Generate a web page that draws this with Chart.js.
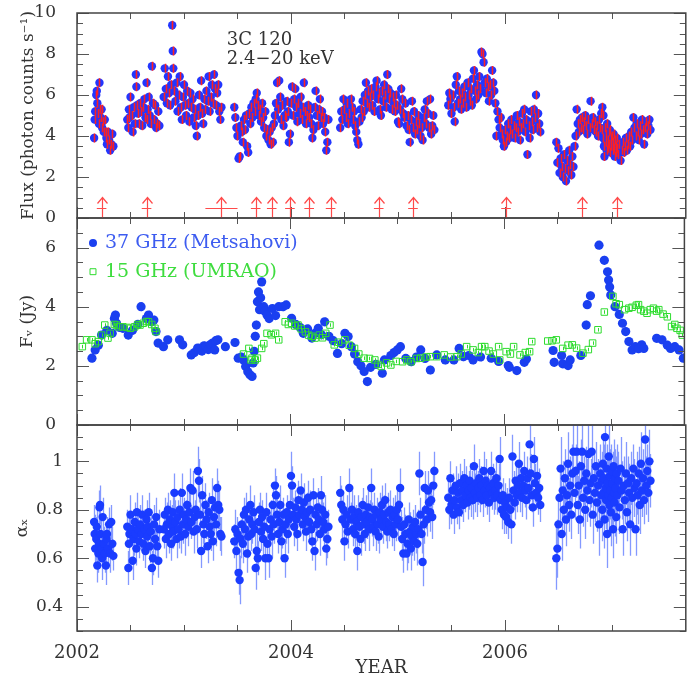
<!DOCTYPE html>
<html>
<head>
<meta charset="utf-8">
<title>3C 120 light curves</title>
<script src="https://cdn.jsdelivr.net/npm/chart.js@4.4.1/dist/chart.umd.min.js"></script>
<style>
  body { margin: 0; background: #fff; }
  #wrap { position: relative; width: 690px; height: 682px; overflow: hidden; background: #fff; }
  #wrap canvas { position: absolute; left: 0; }
</style>
</head>
<body>
<div id="wrap">
  <canvas id="fluxChart" width="690" height="230" style="top:0px"></canvas>
  <canvas id="radioChart" width="690" height="231" style="top:206px"></canvas>
  <canvas id="alphaChart" width="690" height="269" style="top:413px"></canvas>
</div>
<script>
// RXTE 2.4-20 keV monitoring: time (yr), flux (counts/s), spectral index and its error
var xTime = [
  2002.160, 2002.165, 2002.170, 2002.180, 2002.185, 2002.190, 2002.200, 2002.205, 2002.210, 2002.215,
  2002.220, 2002.230, 2002.235, 2002.240, 2002.250, 2002.260, 2002.270, 2002.275, 2002.280, 2002.290,
  2002.300, 2002.310, 2002.320, 2002.330, 2002.340,
  2002.470, 2002.480, 2002.485, 2002.490, 2002.500, 2002.510, 2002.520, 2002.530, 2002.540, 2002.550,
  2002.555, 2002.560, 2002.570, 2002.580, 2002.590, 2002.600, 2002.610, 2002.620, 2002.630, 2002.640,
  2002.650, 2002.655, 2002.660, 2002.670, 2002.680, 2002.690, 2002.700, 2002.710, 2002.720, 2002.730,
  2002.740, 2002.750, 2002.760, 2002.770,
  2002.810, 2002.820, 2002.830, 2002.840, 2002.850, 2002.860, 2002.870, 2002.880, 2002.890, 2002.895,
  2002.900, 2002.910, 2002.920, 2002.930, 2002.940, 2002.950, 2002.960, 2002.970, 2002.980, 2002.990,
  2003.00, 2003.01, 2003.02, 2003.03, 2003.04, 2003.05, 2003.06, 2003.07, 2003.08, 2003.09,
  2003.10, 2003.11, 2003.12, 2003.13, 2003.14, 2003.15, 2003.16, 2003.17, 2003.18, 2003.19,
  2003.20, 2003.21, 2003.22, 2003.23, 2003.24, 2003.25, 2003.26, 2003.27, 2003.28, 2003.29,
  2003.30, 2003.31, 2003.32, 2003.33, 2003.34, 2003.35,
  2003.47, 2003.48, 2003.49, 2003.50, 2003.51, 2003.52, 2003.53, 2003.54, 2003.55, 2003.56,
  2003.57, 2003.58, 2003.59, 2003.60, 2003.61, 2003.62, 2003.63, 2003.64, 2003.65, 2003.66,
  2003.67, 2003.68, 2003.69, 2003.70, 2003.71, 2003.72, 2003.73, 2003.74, 2003.75, 2003.76,
  2003.77, 2003.78, 2003.79, 2003.80, 2003.81, 2003.82, 2003.83, 2003.84, 2003.85, 2003.86,
  2003.87, 2003.88, 2003.89, 2003.90, 2003.91, 2003.92, 2003.93, 2003.94, 2003.95, 2003.96,
  2003.97, 2003.98, 2003.99,
  2004.00, 2004.01, 2004.02, 2004.03, 2004.04, 2004.05, 2004.06, 2004.07, 2004.08, 2004.09,
  2004.10, 2004.11, 2004.12, 2004.13, 2004.14, 2004.15, 2004.16, 2004.17, 2004.18, 2004.19,
  2004.20, 2004.21, 2004.22, 2004.23, 2004.24, 2004.25, 2004.26, 2004.27, 2004.28, 2004.29,
  2004.30, 2004.31, 2004.32, 2004.33, 2004.34, 2004.35,
  2004.46, 2004.47, 2004.48, 2004.49, 2004.50, 2004.51, 2004.52, 2004.53, 2004.545,
  2004.56, 2004.57, 2004.58, 2004.59, 2004.60, 2004.61, 2004.62, 2004.63, 2004.64, 2004.65,
  2004.66, 2004.67, 2004.68, 2004.69, 2004.70, 2004.71, 2004.72, 2004.73, 2004.74, 2004.75,
  2004.76, 2004.77, 2004.78, 2004.79, 2004.80, 2004.81, 2004.82, 2004.83, 2004.84, 2004.85,
  2004.86, 2004.87, 2004.88, 2004.89, 2004.90, 2004.91, 2004.92, 2004.93, 2004.94, 2004.95,
  2004.96, 2004.97, 2004.98, 2004.99,
  2005.00, 2005.01, 2005.02, 2005.03, 2005.04, 2005.05, 2005.06, 2005.07, 2005.08, 2005.09,
  2005.10, 2005.11, 2005.12, 2005.13, 2005.14, 2005.15, 2005.16, 2005.17, 2005.18, 2005.19,
  2005.20, 2005.21, 2005.22, 2005.23, 2005.24, 2005.25, 2005.26, 2005.27, 2005.28, 2005.29,
  2005.30, 2005.31, 2005.32, 2005.33, 2005.34,
  2005.47, 2005.48, 2005.49, 2005.50, 2005.51, 2005.52, 2005.53, 2005.54, 2005.55, 2005.56,
  2005.57, 2005.58, 2005.59, 2005.60, 2005.61, 2005.62, 2005.63, 2005.64, 2005.65, 2005.66,
  2005.67, 2005.68, 2005.69, 2005.70, 2005.71, 2005.72, 2005.73, 2005.74, 2005.75, 2005.76,
  2005.77, 2005.78, 2005.79, 2005.80, 2005.81, 2005.82, 2005.83, 2005.84, 2005.85, 2005.86,
  2005.87, 2005.88, 2005.89, 2005.90, 2005.91, 2005.92, 2005.93, 2005.94, 2005.95, 2005.96,
  2005.97, 2005.98, 2005.99,
  2006.00, 2006.01, 2006.02, 2006.03, 2006.04, 2006.05, 2006.06, 2006.07, 2006.08, 2006.09,
  2006.10, 2006.11, 2006.12, 2006.13, 2006.14, 2006.15, 2006.16, 2006.17, 2006.18, 2006.19,
  2006.20, 2006.21, 2006.22, 2006.23, 2006.24, 2006.25, 2006.26, 2006.27, 2006.28, 2006.29,
  2006.30, 2006.31, 2006.32, 2006.33,
  2006.48, 2006.49, 2006.50, 2006.51, 2006.52, 2006.53, 2006.54, 2006.55, 2006.56, 2006.57,
  2006.58, 2006.59, 2006.60, 2006.61, 2006.62, 2006.63, 2006.64, 2006.65,
  2006.66, 2006.67, 2006.68, 2006.69, 2006.70, 2006.71, 2006.72, 2006.73, 2006.74, 2006.75,
  2006.76, 2006.77, 2006.78, 2006.79, 2006.80, 2006.81, 2006.82, 2006.83, 2006.84, 2006.85,
  2006.86, 2006.87, 2006.88, 2006.89, 2006.90,
  2006.905, 2006.910, 2006.915, 2006.920, 2006.925, 2006.930, 2006.935, 2006.940, 2006.945, 2006.950,
  2006.955, 2006.960, 2006.965, 2006.970, 2006.975, 2006.980, 2006.985, 2006.990, 2006.995, 2007.000,
  2007.005, 2007.010, 2007.015, 2007.020, 2007.025, 2007.030, 2007.035, 2007.040, 2007.045, 2007.050,
  2007.06, 2007.07, 2007.08, 2007.09, 2007.10, 2007.11, 2007.12, 2007.13, 2007.14, 2007.15,
  2007.16, 2007.17, 2007.18, 2007.19, 2007.20, 2007.21, 2007.22, 2007.23, 2007.24, 2007.25,
  2007.26, 2007.27, 2007.28, 2007.29, 2007.30, 2007.31, 2007.32, 2007.33, 2007.34, 2007.35,
  2007.36
];

var xFlux = [
  3.9, 4.8, 5.2, 6.0, 6.2, 5.6, 5.1, 4.6, 6.6, 5.3,
  4.9, 5.3, 4.4, 4.7, 4.2, 4.8, 4.2, 3.9, 3.6, 4.2,
  3.8, 3.3, 3.6, 4.1, 3.5,
  4.8, 4.4, 5.3, 4.9, 5.9, 5.0, 4.2, 5.4, 4.6, 7.0,
  6.4, 5.5, 5.1, 4.6, 5.6, 5.2, 4.5, 5.4, 5.8, 4.9,
  6.6, 4.8, 5.3, 5.9, 5.0, 4.6, 7.4, 5.6, 4.8, 5.5,
  4.4, 4.6, 5.2, 4.5,
  5.9, 7.3, 6.3, 5.6, 6.9, 6.1, 5.5, 6.5, 9.4, 8.15,
  7.3, 6.2, 5.7, 6.6, 5.2, 6.0, 6.9, 5.4, 4.8, 5.9,
  6.5, 5.5, 5.0, 6.2, 5.6, 4.7, 6.1, 5.4, 5.8, 4.9,
  5.3, 4.5, 4.0, 5.0, 6.0, 5.4, 6.7, 5.1, 4.6, 5.8,
  5.3, 6.2, 5.7, 6.9, 5.2, 5.9, 6.5, 5.6, 7.0, 6.3,
  5.5, 6.1, 6.5, 5.2, 4.8, 5.4,
  5.4, 4.9, 4.4, 4.0, 2.9, 3.0, 4.5, 4.2, 3.7, 4.8,
  4.3, 5.0, 3.5, 3.2, 5.1, 4.6, 5.4, 4.9, 5.6, 5.2,
  5.8, 6.1, 5.5, 5.0, 5.3, 4.7, 5.6, 4.9, 4.4, 5.2,
  4.0, 4.3, 3.8, 4.2, 3.6, 4.4, 3.7, 4.6, 5.0, 5.6,
  6.6, 5.3, 6.7, 5.9, 4.8, 5.5, 4.5, 5.0, 4.9, 5.7,
  5.2, 3.7, 4.1,
  5.6, 6.4, 5.0, 5.8, 6.3, 5.4, 4.7, 5.6, 5.1, 5.9,
  4.8, 5.4, 6.6, 5.2, 4.6, 5.0, 5.5, 4.9, 5.3, 4.6,
  3.9, 4.3, 5.4, 6.2, 5.0, 4.5, 5.3, 5.8, 4.9, 5.2,
  4.6, 4.9, 4.2, 3.3, 3.7, 4.8,
  4.4, 5.2, 4.8, 5.8, 5.3, 4.9, 5.6, 4.6, 5.1,
  5.8, 5.4, 4.8, 5.2, 4.5, 4.2, 3.8, 3.6, 4.7, 5.3,
  4.9, 5.7, 5.2, 6.0, 6.6, 5.6, 6.2, 5.4, 5.9, 6.3,
  5.5, 6.0, 5.2, 6.4, 6.7, 5.8, 6.1, 5.3, 5.0, 6.2,
  5.7, 6.5, 6.0, 5.4, 7.0, 6.3, 5.8, 6.1, 5.3, 5.9,
  5.6, 5.2, 6.0, 5.5,
  4.7, 4.6, 5.3, 6.3, 5.8, 5.1, 4.9, 5.6, 4.5, 5.0,
  4.3, 3.7, 4.8, 5.7, 4.4, 5.2, 4.1, 4.7, 4.3, 5.0,
  4.6, 4.0, 4.4, 3.8, 4.9, 5.3, 4.6, 5.7, 5.1, 4.4,
  5.8, 4.1, 4.5, 5.0, 4.3,
  5.5, 6.1, 5.8, 5.1, 6.0, 5.4, 4.7, 6.5, 6.9, 5.6,
  6.2, 5.8, 5.3, 6.1, 5.6, 6.4, 5.9, 5.4, 6.6, 6.0,
  5.7, 6.3, 5.5, 6.8, 7.2, 6.2, 5.8, 6.5, 6.0, 6.9,
  6.3, 8.1, 8.0, 7.6, 6.6, 6.1, 6.8, 6.4, 5.7, 6.5,
  6.0, 7.2, 6.6, 6.2, 5.6, 4.0, 5.2, 4.8, 4.4, 4.9,
  4.1, 3.8, 3.5,
  4.3, 3.7, 4.0, 4.6, 3.9, 4.3, 4.8, 4.1, 4.5, 3.9,
  4.4, 5.0, 4.2, 4.7, 3.8, 4.4, 5.1, 4.6, 5.3, 4.2,
  4.8, 3.1, 4.5, 3.9, 5.2, 4.7, 4.3, 5.3, 4.9, 6.0,
  4.4, 5.1, 4.6, 4.2,
  3.7, 2.7, 3.4, 2.2, 2.9, 2.5, 2.0, 3.1, 2.4, 1.8,
  2.8, 2.3, 3.3, 2.6, 2.1, 3.0, 2.5, 3.5,
  4.0, 5.3, 4.6, 4.2, 4.8, 4.4, 4.9, 4.3, 4.7, 5.0,
  4.5, 4.1, 4.8, 4.4, 5.7, 4.6, 4.9, 4.3, 4.7, 4.2,
  4.5, 4.0, 4.8, 4.4, 5.1,
  4.3, 5.4, 3.9, 5.0, 3.5, 3.0, 4.4, 3.7, 4.1, 3.3,
  4.6, 3.8, 3.4, 4.2, 3.6, 4.3, 3.2, 3.9, 3.5, 4.0,
  3.3, 3.7, 4.1, 3.4, 3.0, 3.8, 3.5, 3.2, 3.9, 3.4,
  3.1, 3.6, 2.8, 3.3, 3.7, 3.2, 3.5, 3.9, 3.3, 3.6,
  4.0, 3.5, 4.2, 3.8, 4.9, 4.4, 4.0, 4.6, 4.2, 3.8,
  4.5, 4.1, 4.8, 4.3, 3.6, 4.4, 4.7, 4.1, 4.5, 4.8,
  4.3
];

var alphaX = [
  0.75, 0.70, 0.64, 0.68, 0.73, 0.57, 0.62, 0.66, 0.81, 0.82,
  0.70, 0.64, 0.60, 0.77, 0.66, 0.62, 0.57, 0.68, 0.70, 0.64,
  0.74, 0.62, 0.75, 0.66, 0.61,
  0.73, 0.56, 0.66, 0.70, 0.78, 0.72, 0.59, 0.68, 0.75, 0.70,
  0.64, 0.79, 0.72, 0.67, 0.74, 0.70, 0.78, 0.66, 0.72, 0.63,
  0.76, 0.69, 0.73, 0.79, 0.65, 0.71, 0.56, 0.60, 0.74, 0.68,
  0.77, 0.65, 0.59, 0.72,
  0.72, 0.78, 0.68, 0.74, 0.80, 0.70, 0.76, 0.66, 0.73, 0.79,
  0.71, 0.87, 0.75, 0.68, 0.77, 0.72, 0.80, 0.69, 0.87, 0.74,
  0.78, 0.70, 0.76, 0.82, 0.73, 0.79, 0.89, 0.75, 0.88, 0.71,
  0.77, 0.80, 0.72, 0.96, 0.92, 0.78, 0.63, 0.86, 0.74, 0.70,
  0.82, 0.76, 0.65, 0.79, 0.73, 0.70, 0.84, 0.67, 0.77, 0.81,
  0.74, 0.89, 0.82, 0.80, 0.70, 0.69,
  0.67, 0.72, 0.63, 0.70, 0.54, 0.51, 0.68, 0.74, 0.66, 0.78,
  0.72, 0.80, 0.62, 0.69, 0.76, 0.82, 0.70, 0.74, 0.79, 0.72,
  0.56, 0.63, 0.60, 0.75, 0.80, 0.71, 0.77, 0.68, 0.73, 0.60,
  0.79, 0.66, 0.60, 0.72, 0.76, 0.69, 0.82, 0.74, 0.90, 0.86,
  0.78, 0.70, 0.75, 0.82, 0.67, 0.72, 0.78, 0.60, 0.74, 0.79,
  0.70, 0.76, 0.82,
  0.94, 0.90, 0.78, 0.73, 0.81, 0.76, 0.70, 0.84, 0.78, 0.88,
  0.80, 0.74, 0.83, 0.77, 0.71, 0.79, 0.85, 0.75, 0.80, 0.72,
  0.67, 0.86, 0.63, 0.78, 0.74, 0.81, 0.76, 0.70, 0.86, 0.80,
  0.75, 0.72, 0.78, 0.64, 0.68, 0.73,
  0.87, 0.82, 0.76, 0.80, 0.67, 0.74, 0.78, 0.71, 0.89,
  0.76, 0.80, 0.72, 0.77, 0.70, 0.75, 0.63, 0.79, 0.73, 0.68,
  0.77, 0.82, 0.74, 0.70, 0.78, 0.75, 0.81, 0.72, 0.77, 0.89,
  0.76, 0.73, 0.80, 0.71, 0.78, 0.74, 0.69, 0.79, 0.76, 0.82,
  0.73, 0.78, 0.84, 0.75, 0.71, 0.79, 0.74, 0.80, 0.72, 0.77,
  0.70, 0.78, 0.74, 0.80,
  0.76, 0.82, 0.89, 0.73, 0.68, 0.62, 0.74, 0.70, 0.62, 0.66,
  0.76, 0.71, 0.64, 0.69, 0.73, 0.67, 0.75, 0.70, 0.66, 0.72,
  0.95, 0.78, 0.70, 0.585, 0.74, 0.89, 0.80, 0.76, 0.88, 0.83,
  0.79, 0.84, 0.77, 0.90, 0.96,
  0.85, 0.80, 0.93, 0.82, 0.88, 0.78, 0.84, 0.90, 0.81, 0.87,
  0.79, 0.91, 0.84, 0.88, 0.82, 0.93, 0.86, 0.90, 0.83, 0.88,
  0.92, 0.85, 0.89, 0.84, 0.98, 0.87, 0.91, 0.85, 0.89, 0.93,
  0.86, 0.90, 0.84, 0.96, 0.88, 0.92, 0.86, 0.90, 0.83, 0.89,
  0.96, 0.87, 0.91, 0.85, 0.88, 0.93, 0.86, 0.90, 1.01, 0.84,
  0.80, 0.86, 0.78,
  0.83, 0.77, 0.81, 0.75, 0.85, 0.80, 0.74, 1.02, 0.88, 0.83,
  0.92, 0.86, 0.90, 0.99, 0.87, 0.93, 0.85, 0.90, 0.96, 0.88,
  0.84, 0.93, 0.89, 1.07, 0.95, 0.86, 0.81, 1.01, 0.91, 0.87,
  0.94, 0.85, 0.89, 0.82,
  0.60, 0.64, 0.74, 0.85, 0.97, 0.70, 0.88, 0.80, 0.93, 0.76,
  0.86, 0.99, 0.82, 0.90, 0.78, 0.95, 1.04, 0.87,
  0.96, 1.04, 0.82, 0.90, 0.76, 0.98, 1.04, 0.85, 0.92, 0.80,
  0.95, 0.88, 1.03, 0.84, 0.91, 1.04, 0.78, 0.93, 0.87, 0.98,
  0.83, 0.90, 0.74, 0.95, 0.86,
  0.92, 0.80, 0.99, 0.87, 0.93, 0.76, 1.10, 0.89, 0.84, 0.97,
  0.70, 0.91, 0.86, 1.02, 0.82, 0.94, 0.88, 0.79, 0.96, 0.85,
  0.91, 0.72, 0.98, 0.87, 0.83, 0.93, 0.89, 0.77, 0.95, 0.86,
  0.92, 0.81, 0.97, 0.88, 0.72, 0.90, 0.84, 0.95, 0.79, 0.91,
  0.87, 0.74, 0.93, 0.85, 0.97, 0.89, 0.72, 0.91, 0.86, 0.95,
  0.82, 0.99, 0.88, 0.93, 0.84, 1.09, 0.90, 0.96, 0.87, 1.00,
  0.92
];

var alphaErr = [
  .07, .08, .07, .09, .08, .07, .08, .07, .07, .08,
  .08, .07, .09, .08, .07, .08, .08, .07, .07, .08,
  .07, .08, .07, .07, .06,
  .07, .07, .08, .07, .08, .07, .08, .07, .08, .07,
  .07, .08, .07, .07, .08, .07, .08, .07, .08, .07,
  .08, .07, .07, .08, .07, .08, .07, .07, .08, .07,
  .08, .07, .07, .08,
  .08, .07, .08, .09, .07, .08, .08, .07, .09, .08,
  .07, .08, .09, .08, .07, .08, .09, .07, .08, .08,
  .07, .09, .08, .07, .08, .09, .08, .07, .08, .09,
  .07, .08, .08, .10, .09, .08, .07, .08, .08, .07,
  .09, .08, .07, .08, .08, .07, .09, .08, .07, .08,
  .09, .08, .10, .08, .07, .08,
  .07, .08, .08, .07, .09, .10, .08, .07, .08, .07,
  .08, .07, .08, .09, .07, .08, .07, .08, .07, .08,
  .09, .08, .07, .08, .07, .08, .07, .08, .07, .09,
  .08, .07, .08, .07, .08, .09, .07, .08, .07, .08,
  .07, .08, .09, .08, .07, .08, .07, .08, .08, .07,
  .08, .07, .09,
  .10, .08, .07, .08, .07, .08, .07, .08, .09, .07,
  .08, .07, .08, .07, .08, .08, .07, .09, .08, .07,
  .08, .07, .08, .08, .07, .08, .07, .09, .08, .07,
  .08, .07, .08, .07, .08, .07,
  .07, .08, .08, .07, .08, .07, .08, .07, .08,
  .07, .08, .07, .09, .08, .07, .08, .07, .08, .07,
  .08, .07, .08, .07, .08, .07, .08, .09, .07, .08,
  .07, .08, .07, .08, .07, .08, .07, .08, .07, .08,
  .07, .08, .07, .08, .07, .08, .07, .08, .07, .08,
  .07, .08, .07, .08,
  .08, .07, .08, .07, .09, .08, .07, .08, .07, .08,
  .07, .08, .09, .08, .07, .08, .07, .08, .09, .08,
  .09, .07, .08, .10, .08, .07, .08, .07, .08, .07,
  .08, .07, .09, .08, .08,
  .07, .08, .07, .08, .07, .08, .07, .08, .07, .08,
  .07, .08, .07, .08, .07, .08, .07, .08, .07, .08,
  .07, .08, .07, .08, .09, .08, .07, .08, .07, .08,
  .07, .08, .07, .08, .07, .09, .08, .07, .08, .07,
  .08, .07, .08, .07, .08, .07, .08, .09, .09, .07,
  .08, .07, .08,
  .08, .07, .08, .07, .08, .07, .08, .09, .08, .07,
  .08, .07, .08, .09, .08, .07, .08, .07, .08, .07,
  .08, .09, .08, .10, .08, .07, .08, .09, .08, .07,
  .08, .07, .08, .07,
  .13, .12, .11, .12, .13, .11, .12, .10, .12, .11,
  .12, .13, .11, .12, .10, .12, .13, .11,
  .11, .13, .12, .10, .12, .11, .13, .12, .10, .12,
  .11, .13, .12, .11, .10, .13, .12, .11, .12, .10,
  .12, .11, .13, .12, .11,
  .12, .13, .11, .12, .14, .12, .13, .11, .12, .10,
  .14, .12, .11, .13, .12, .11, .12, .14, .11, .12,
  .13, .12, .11, .12, .14, .12, .13, .11, .12, .10,
  .12, .11, .13, .12, .11, .12, .10, .13, .12, .11,
  .12, .13, .11, .12, .10, .12, .11, .13, .12, .11,
  .12, .13, .11, .12, .10, .13, .12, .11, .12, .13,
  .11
];

var fluxErr = 0.22; // typical 1-sigma error of the X-ray flux

// X-ray dips marked with arrows (time, half-width of the time window)
var arrowTime = [2002.23, 2002.65, 2003.35, 2003.67, 2003.82, 2003.99, 2004.17, 2004.37, 2004.82, 2005.14, 2006.01, 2006.72, 2007.05];
var arrowSpan = [0.045, 0.045, 0.15, 0.045, 0.045, 0.045, 0.045, 0.045, 0.045, 0.045, 0.045, 0.045, 0.045];
var arrowTip = 1.0;
var arrowBar = 0.47;

// 37 GHz Metsahovi
var t37 = [
  2002.14, 2002.17, 2002.20, 2002.23, 2002.28, 2002.33, 2002.35, 2002.36, 2002.37, 2002.40,
  2002.43, 2002.48, 2002.52, 2002.57, 2002.60, 2002.65, 2002.67, 2002.70, 2002.72, 2002.74,
  2002.76, 2002.81, 2002.85, 2002.96, 2002.99, 2003.07, 2003.10, 2003.13, 2003.15, 2003.17,
  2003.19, 2003.21, 2003.23, 2003.25, 2003.27, 2003.29, 2003.30, 2003.32, 2003.39, 2003.48,
  2003.51, 2003.54, 2003.56, 2003.58, 2003.60, 2003.62, 2003.64, 2003.65, 2003.66, 2003.67,
  2003.68, 2003.69, 2003.70, 2003.71, 2003.72, 2003.73, 2003.75, 2003.76, 2003.78, 2003.80,
  2003.83, 2003.86, 2003.89, 2003.93, 2003.96, 2004.01, 2004.05, 2004.09, 2004.12, 2004.16,
  2004.20, 2004.23, 2004.26, 2004.29, 2004.32, 2004.36, 2004.40, 2004.44, 2004.48, 2004.51,
  2004.54, 2004.57, 2004.60, 2004.63, 2004.66, 2004.69, 2004.72, 2004.75, 2004.80, 2004.86,
  2004.88, 2004.94, 2004.97, 2005.00, 2005.03, 2005.08, 2005.13, 2005.18, 2005.22, 2005.26,
  2005.31, 2005.37, 2005.45, 2005.53, 2005.58, 2005.62, 2005.67, 2005.71, 2005.78, 2005.88,
  2005.95, 2006.04, 2006.05, 2006.12, 2006.19, 2006.21, 2006.46, 2006.47, 2006.54, 2006.55,
  2006.60, 2006.62, 2006.72, 2006.77, 2006.78, 2006.81, 2006.89, 2006.94, 2006.97, 2006.98,
  2006.99, 2007.00, 2007.04, 2007.08, 2007.11, 2007.14, 2007.17, 2007.20, 2007.23, 2007.26,
  2007.29, 2007.31, 2007.43, 2007.48, 2007.53, 2007.56, 2007.60, 2007.64, 2007.68
];
var f37 = [
  2.26, 2.54, 2.70, 3.04, 3.20, 3.10, 3.60, 3.72, 3.44, 3.30,
  3.27, 3.04, 3.20, 3.40, 4.00, 3.60, 3.72, 3.49, 3.55, 3.16,
  2.77, 2.65, 2.88, 2.88, 2.71, 2.37, 2.45, 2.60, 2.59, 2.50,
  2.68, 2.65, 2.55, 2.72, 2.77, 2.54, 2.85, 2.88, 2.65, 2.79,
  2.26, 2.30, 2.20, 1.98, 1.80, 1.70, 1.64, 2.10, 2.49, 3.00,
  3.38, 4.17, 4.50, 3.90, 4.30, 4.84, 4.00, 3.85, 3.72, 3.60,
  3.94, 3.70, 4.00, 4.00, 4.06, 3.61, 3.40, 3.30, 3.10, 3.25,
  2.94, 3.10, 3.27, 3.05, 3.49, 3.00, 2.85, 2.42, 2.75, 3.10,
  2.99, 2.65, 2.40, 2.14, 2.00, 1.81, 1.47, 1.95, 2.05, 1.75,
  2.20, 2.35, 2.45, 2.54, 2.65, 2.25, 2.14, 2.30, 2.54, 2.25,
  1.86, 2.37, 2.20, 2.20, 2.59, 2.31, 2.35, 2.20, 2.30, 2.26,
  2.15, 2.01, 1.95, 1.84, 2.12, 2.23, 2.52, 2.12, 2.35, 2.07,
  2.01, 2.20, 2.35, 3.38, 4.07, 4.37, 6.08, 5.57, 5.18, 4.90,
  4.67, 4.40, 4.00, 3.74, 3.44, 3.16, 2.82, 2.54, 2.65, 2.58,
  2.71, 2.59, 2.93, 2.88, 2.70, 2.59, 2.65, 2.54, 2.26
];
var err37 = 0.15;

// 15 GHz UMRAO
var t15 = [
  2002.05, 2002.09, 2002.14, 2002.17, 2002.20, 2002.23, 2002.26, 2002.29, 2002.31, 2002.35,
  2002.37, 2002.39, 2002.43, 2002.47, 2002.50, 2002.54, 2002.57, 2002.59, 2002.62, 2002.65,
  2002.67, 2002.70, 2002.73, 2002.74, 2003.56, 2003.61, 2003.63, 2003.64, 2003.67, 2003.69,
  2003.73, 2003.75, 2003.78, 2003.82, 2003.86, 2003.89, 2003.95, 2003.98, 2004.01, 2004.04,
  2004.07, 2004.10, 2004.14, 2004.17, 2004.20, 2004.23, 2004.27, 2004.30, 2004.33, 2004.37,
  2004.41, 2004.45, 2004.51, 2004.55, 2004.60, 2004.64, 2004.69, 2004.74, 2004.79, 2004.82,
  2004.85, 2004.90, 2004.94, 2004.99, 2005.05, 2005.09, 2005.13, 2005.18, 2005.22, 2005.27,
  2005.31, 2005.37, 2005.44, 2005.50, 2005.56, 2005.60, 2005.65, 2005.71, 2005.76, 2005.79,
  2005.82, 2005.86, 2005.90, 2005.95, 2005.96, 2006.02, 2006.06, 2006.09, 2006.15, 2006.20,
  2006.24, 2006.26, 2006.41, 2006.45, 2006.49, 2006.55, 2006.60, 2006.64, 2006.68, 2006.74,
  2006.79, 2006.83, 2006.88, 2006.94, 2007.02, 2007.05, 2007.08, 2007.13, 2007.17, 2007.20,
  2007.24, 2007.26, 2007.28, 2007.31, 2007.34, 2007.37, 2007.40, 2007.43, 2007.45, 2007.49,
  2007.53, 2007.57, 2007.60, 2007.62, 2007.65, 2007.67
];
var f15 = [
  2.65, 2.88, 2.88, 2.75, 2.82, 3.04, 3.38, 2.94, 3.10, 3.40,
  3.38, 3.32, 3.32, 3.30, 3.27, 3.32, 3.40, 3.38, 3.44, 3.50,
  3.49, 3.40, 3.27, 3.16, 2.40, 2.59, 2.20, 2.26, 2.20, 2.26,
  2.59, 2.75, 3.10, 3.05, 3.10, 2.88, 3.49, 3.40, 3.44, 3.35,
  3.38, 3.25, 3.15, 3.04, 3.00, 2.94, 3.04, 2.95, 3.10, 3.38,
  2.71, 2.80, 2.88, 2.70, 2.59, 2.40, 2.26, 2.25, 2.20, 2.05,
  1.98, 2.10, 2.03, 2.15, 2.14, 2.20, 2.14, 2.25, 2.26, 2.30,
  2.31, 2.31, 2.37, 2.30, 2.31, 2.40, 2.65, 2.54, 2.45, 2.65,
  2.65, 2.50, 2.40, 2.65, 2.20, 2.48, 2.40, 2.65, 2.37, 2.45,
  2.48, 2.82, 2.84, 2.85, 2.88, 2.59, 2.70, 2.71, 2.60, 2.43,
  2.55, 2.77, 3.22, 3.82, 4.35, 4.10, 4.07, 3.90, 3.95, 3.98,
  4.05, 4.07, 3.90, 3.85, 3.78, 3.90, 3.95, 3.85, 3.90, 3.75,
  3.66, 3.33, 3.40, 3.27, 3.20, 3.04
];
var err15 = 0.06;

var textColor = '#333';
var serif = 'DejaVu Serif';

function pts(xs, ys) {
  return xs.map(function (x, i) { return { x: x, y: ys[i] }; });
}

function isStep(v, step) {
  return Math.abs(v / step - Math.round(v / step)) < 1e-6;
}

function drawErrors(chart, onTop) {
  var ctx = chart.ctx, a = chart.chartArea, xs = chart.scales.x, ys = chart.scales.y;
  chart.data.datasets.forEach(function (ds) {
    if (ds.errors == null || !!ds.errorsOnTop !== onTop) return;
    ctx.save();
    ctx.beginPath();
    ctx.rect(a.left, a.top, a.right - a.left, a.bottom - a.top);
    ctx.clip();
    ctx.strokeStyle = ds.errorColor;
    ctx.lineWidth = ds.errorWidth || 1;
    ctx.beginPath();
    ds.data.forEach(function (p, i) {
      var e = Array.isArray(ds.errors) ? ds.errors[i] : ds.errors;
      if (e == null) return;
      var px = Math.round(xs.getPixelForValue(p.x)) + 0.5;
      ctx.moveTo(px, ys.getPixelForValue(p.y - e));
      ctx.lineTo(px, ys.getPixelForValue(p.y + e));
    });
    ctx.stroke();
    ctx.restore();
  });
}

var errorBarPlugin = {
  id: 'errorBars',
  beforeDatasetsDraw: function (chart) { drawErrors(chart, false); },
  afterDatasetsDraw: function (chart) { drawErrors(chart, true); }
};

// box round each panel with inward ticks on all four sides
var framePlugin = {
  id: 'frame',
  afterDatasetsDraw: function (chart, args, opts) {
    var ctx = chart.ctx, a = chart.chartArea, xs = chart.scales.x, ys = chart.scales.y;
    ctx.save();
    ctx.strokeStyle = '#555';
    ctx.lineWidth = 1;
    ctx.beginPath();
    xs.ticks.forEach(function (t) {
      if (!isStep(t.value, 0.5)) return;
      var len = isStep(t.value, opts.xMajor) ? 11 : 6;
      var px = Math.round(xs.getPixelForValue(t.value)) + 0.5;
      ctx.moveTo(px, a.top); ctx.lineTo(px, a.top + len);
      ctx.moveTo(px, a.bottom); ctx.lineTo(px, a.bottom - len);
    });
    ys.ticks.forEach(function (t) {
      var len = isStep(t.value, opts.yMajor) ? 12 : 6;
      var py = Math.round(ys.getPixelForValue(t.value)) + 0.5;
      ctx.moveTo(a.left, py); ctx.lineTo(a.left + len, py);
      ctx.moveTo(a.right, py); ctx.lineTo(a.right - len, py);
    });
    ctx.stroke();
    ctx.strokeStyle = '#444';
    ctx.lineWidth = 1.5;
    ctx.strokeRect(a.left, a.top, a.right - a.left, a.bottom - a.top);
    ctx.restore();
  }
};

var xrayNotes = {
  id: 'xrayNotes',
  afterDatasetsDraw: function (chart) {
    var ctx = chart.ctx, xs = chart.scales.x, ys = chart.scales.y;
    ctx.save();
    ctx.fillStyle = textColor;
    ctx.font = '18px "' + serif + '"';
    ctx.textBaseline = 'middle';
    ctx.fillText('3C 120', xs.getPixelForValue(2003.40), ys.getPixelForValue(8.65));
    ctx.fillText('2.4\u221220 keV', xs.getPixelForValue(2003.40), ys.getPixelForValue(7.75));
    ctx.strokeStyle = '#ff4a4a';
    ctx.lineWidth = 1.2;
    var y0 = ys.getPixelForValue(0), yTip = ys.getPixelForValue(arrowTip), yBar = Math.round(ys.getPixelForValue(arrowBar)) + 0.5;
    arrowTime.forEach(function (t, i) {
      var px = Math.round(xs.getPixelForValue(t)) + 0.5;
      ctx.beginPath();
      ctx.moveTo(px, y0); ctx.lineTo(px, yTip);
      ctx.moveTo(px - 5, yTip + 6); ctx.lineTo(px, yTip); ctx.lineTo(px + 5, yTip + 6);
      ctx.moveTo(xs.getPixelForValue(t - arrowSpan[i]), yBar);
      ctx.lineTo(xs.getPixelForValue(t + arrowSpan[i]), yBar);
      ctx.stroke();
    });
    ctx.restore();
  }
};

// key in the upper left of the radio panel, markers styled like the datasets
var radioKey = {
  id: 'radioKey',
  afterDatasetsDraw: function (chart) {
    var ctx = chart.ctx, a = chart.chartArea;
    ctx.save();
    ctx.font = '19px "' + serif + '"';
    ctx.textBaseline = 'middle';
    chart.data.datasets.forEach(function (ds, i) {
      var y = a.top + 25 + i * 28.7;
      ctx.fillStyle = ds.backgroundColor;
      ctx.strokeStyle = ds.borderColor;
      ctx.lineWidth = ds.borderWidth;
      Chart.helpers.drawPoint(ctx, { pointStyle: ds.pointStyle || 'circle', radius: ds.keyRadius, borderWidth: ds.borderWidth, rotation: 0 }, a.left + 16, y);
      ctx.fillStyle = ds.keyColor;
      ctx.fillText(ds.label, a.left + 28, y);
    });
    ctx.restore();
  }
};

function yearAxis(showLabels) {
  return {
    type: 'linear', min: 2002, max: 2007.69,
    grid: { display: false }, border: { display: false },
    ticks: {
      stepSize: 0.5, autoSkip: false, maxRotation: 0, display: showLabels, padding: 4,
      color: textColor, font: { family: serif, size: 18 },
      callback: function (v) { return isStep(v, 2) ? String(v) : ''; }
    },
    title: { display: showLabels, text: 'YEAR', color: textColor, font: { family: serif, size: 18 }, padding: { top: 0, bottom: 3 } },
    afterFit: function (s) {
      s.height = showLabels ? 51 : 0;
      s.paddingLeft = 0;
      s.paddingRight = 0;
    }
  };
}

function valueAxis(min, max, step, majorStep, title, titlePad, labelPad, fmt) {
  return {
    type: 'linear', min: min, max: max,
    grid: { display: false }, border: { display: false },
    ticks: {
      stepSize: step, autoSkip: false, padding: labelPad,
      color: textColor, font: { family: serif, size: 17 },
      callback: function (v) { return isStep(v, majorStep) ? fmt(v) : ''; }
    },
    title: { display: true, text: title, color: textColor, font: { family: serif, size: 17 }, padding: { top: titlePad, bottom: 0 } },
    afterFit: function (s) {
      s.width = 77;
      s.paddingTop = 0;
      s.paddingBottom = 0;
    }
  };
}

var baseOptions = {
  responsive: false,
  animation: false,
  events: []
};

new Chart(document.getElementById('fluxChart'), {
  type: 'scatter',
  data: {
    datasets: [{
      label: 'Flux',
      data: pts(xTime, xFlux),
      backgroundColor: '#2236ff',
      borderWidth: 0,
      pointRadius: 4.2,
      errors: fluxErr, errorColor: '#ff2020', errorWidth: 1.6, errorsOnTop: true
    }]
  },
  options: Object.assign({}, baseOptions, {
    layout: { padding: { top: 13, bottom: 12, left: 0, right: 1 } },
    scales: {
      x: yearAxis(false),
      y: valueAxis(0, 10, 0.5, 2, 'Flux (photon counts s\u207B\u00B9)', 18, 13, function (v) { return String(v); })
    },
    plugins: { legend: { display: false }, tooltip: { enabled: false }, frame: { xMajor: 2, yMajor: 2 } }
  }),
  plugins: [errorBarPlugin, framePlugin, xrayNotes]
});

new Chart(document.getElementById('radioChart'), {
  type: 'scatter',
  data: {
    datasets: [{
      label: '37 GHz (Metsahovi)',
      data: pts(t37, f37),
      backgroundColor: '#1a3ff0',
      borderColor: '#1a3ff0',
      borderWidth: 0,
      pointRadius: 4.6,
      order: 1,
      keyColor: '#3d5cf0', keyRadius: 4,
      errors: err37, errorColor: 'rgba(70,100,255,0.6)', errorWidth: 1.2
    }, {
      label: '15 GHz (UMRAO)',
      data: pts(t15, f15),
      pointStyle: 'rect',
      backgroundColor: 'rgba(0,0,0,0)',
      borderColor: '#2fdc2f',
      borderWidth: 1,
      pointRadius: 4.6,
      order: 0,
      keyColor: '#3edc3e', keyRadius: 4.2,
      errors: err15, errorColor: '#2fdc2f', errorWidth: 1, errorsOnTop: true
    }]
  },
  options: Object.assign({}, baseOptions, {
    layout: { padding: { top: 12, bottom: 12, left: 0, right: 1 } },
    scales: {
      x: yearAxis(false),
      y: valueAxis(0, 7, 0.5, 2, 'F\u1D65 (Jy)', 17, 13, function (v) { return String(v); })
    },
    plugins: { legend: { display: false }, tooltip: { enabled: false }, frame: { xMajor: 2, yMajor: 2 } }
  }),
  plugins: [errorBarPlugin, framePlugin, radioKey]
});

new Chart(document.getElementById('alphaChart'), {
  type: 'scatter',
  data: {
    datasets: [{
      label: 'alpha_x',
      data: pts(xTime, alphaX),
      backgroundColor: '#1a3cff',
      borderWidth: 0,
      pointRadius: 4.2,
      errors: alphaErr, errorColor: 'rgba(50,85,255,0.6)', errorWidth: 1.3
    }]
  },
  options: Object.assign({}, baseOptions, {
    layout: { padding: { top: 12, bottom: 0, left: 0, right: 1 } },
    scales: {
      x: yearAxis(true),
      y: valueAxis(0.3, 1.15, 0.05, 0.2, '\u03B1\u2093', 12, 6, function (v) { return isStep(v, 1) ? String(Math.round(v)) : v.toFixed(1); })
    },
    plugins: { legend: { display: false }, tooltip: { enabled: false }, frame: { xMajor: 2, yMajor: 0.2 } }
  }),
  plugins: [errorBarPlugin, framePlugin]
});
</script>
</body>
</html>
